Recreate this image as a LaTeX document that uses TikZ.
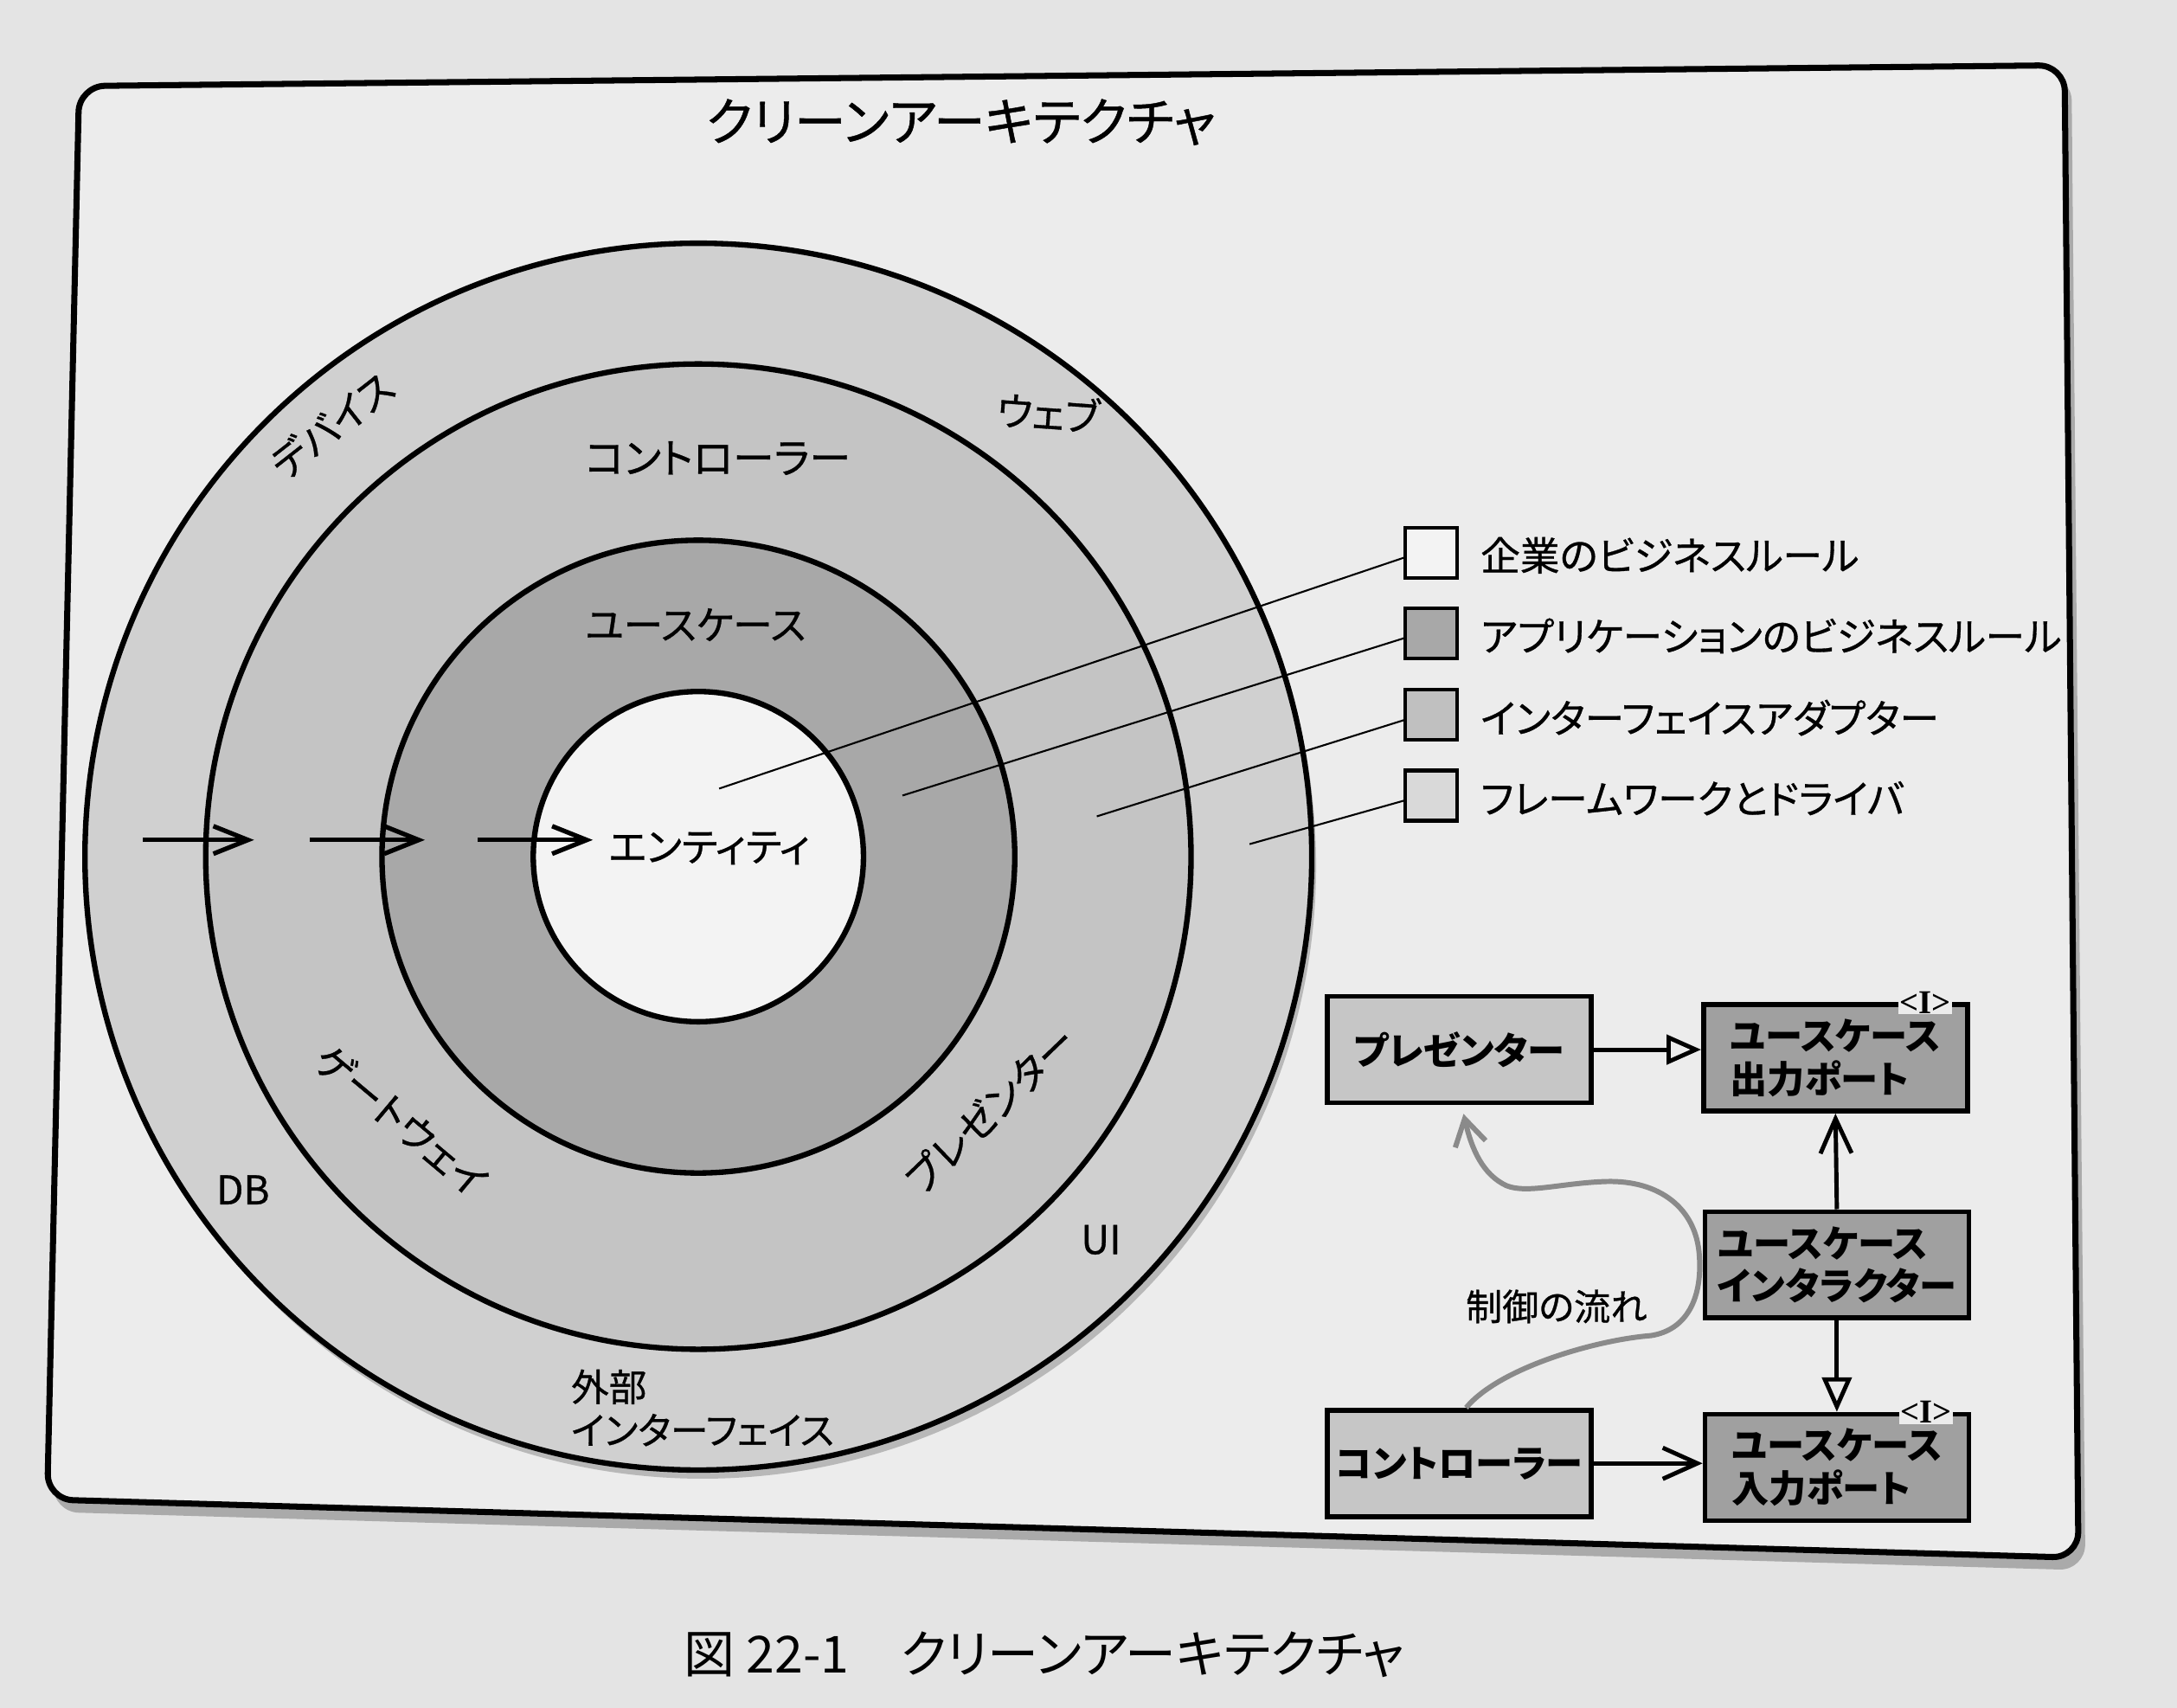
\documentclass[tikz,border=0pt]{standalone}
\usepackage{fontspec}
\setmainfont[RawFeature=+palt]{Noto Sans CJK JP}
\newfontfamily\medfont[RawFeature=+palt, FakeBold=0.7]{Noto Sans CJK JP}
\newfontfamily\markfont{Liberation Serif}
\usepackage{tikz}
\usetikzlibrary{arrows.meta}

\definecolor{paper}{HTML}{E4E4E4}
\definecolor{framefill}{HTML}{ECECEC}
\definecolor{ringFW}{HTML}{D0D0D0}
\definecolor{ringIA}{HTML}{C4C4C4}
\definecolor{ringUC}{HTML}{A8A8A8}
\definecolor{ringEN}{HTML}{F3F3F3}
\definecolor{boxlight}{HTML}{C6C6C6}
\definecolor{boxdark}{HTML}{A0A0A0}
\definecolor{flowgray}{HTML}{8A8A8A}
\newcommand\fsz[1]{\fontsize{#1}{1.15\dimexpr#1\relax}\selectfont}

\begin{document}
\begin{tikzpicture}[x=0.016046cm, y=-0.016046cm,
	ring/.style={line width=1.8pt, draw=black},
	lbl/.style={font=\medfont\fsz{13pt}, inner sep=0pt},
	legbox/.style={draw=black, line width=1.2pt, minimum width=.6cm, minimum height=.58cm, inner sep=0pt},
	legtxt/.style={font=\medfont\fsz{13pt}, anchor=west, inner sep=0pt},
	leader/.style={-, line width=.6pt, black},
	inarrow/.style={-{Straight Barb[length=4mm,width=3.2mm]}, line width=1.5pt},
	unit/.style={draw=black, line width=1.6pt, minimum width=3.05cm, minimum height=1.23cm, font=\bfseries\fsz{12.3pt}, align=left, inner sep=2pt},
	uses/.style={-{Straight Barb[length=4mm,width=3.6mm]}, line width=1.4pt},
	impl/.style={-{Triangle[length=4mm,width=3.4mm,fill=framefill]}, line width=1.4pt},
	imark/.style={font=\markfont\bfseries\fsz{11pt}, fill=framefill, inner sep=.4pt},
	flow/.style={-{Straight Barb[length=3mm,width=3.6mm]}, line width=1.7pt, draw=flowgray}
	]
			\useasboundingbox (0,0) rectangle (1568,1230);
			\fill[paper] (0,0) rectangle (1568,1230);
			
			% frame
			\fill[black, opacity=.25, rounded corners=.3cm] (61,69) -- (1492,54) -- (1502,1131) -- (38,1089) -- cycle;
			\draw[line width=2pt, fill=framefill, rounded corners=.3cm] (57,62) -- (1487,47) -- (1497,1122) -- (34,1080) -- cycle;
			\node[font=\medfont\fsz{17pt}] (title) at (692,88) {クリーンアーキテクチャ};
			
			% rings
			\coordinate (ctr) at (503,617);
			\fill[black, opacity=.22] ([xshift=.05cm,yshift=-.1cm]ctr) circle (7.092cm);
			\filldraw[ring, fill=ringFW] (ctr) circle (7.092cm);
			\filldraw[ring, fill=ringIA] (ctr) circle (5.696cm);
			\filldraw[ring, fill=ringUC] (ctr) circle (3.658cm);
			\filldraw[ring, fill=ringEN] (ctr) circle (1.909cm);
			
			\node[lbl, rotate=38] (devLbl) at (239,306) {デバイス};
			\node[lbl, rotate=-4] (webLbl) at (755,297) {ウェブ};
			\node[lbl, font=\medfont\fsz{13.6pt}] (ctlLbl) at (517,330) {コントローラー};
			\node[lbl] (ucLbl) at (501,450) {ユースケース};
			\node[lbl, anchor=west] (entLbl) at (438,611) {エンティティ};
			\node[lbl, rotate=-40] (gwLbl) at (289,807) {ゲートウェイ};
			\node[lbl, rotate=44] (prLbl) at (713,799) {プレゼンター};
			\node[lbl] (dbLbl) at (175,857) {DB};
			\node[lbl] (uiLbl) at (793,893) {UI};
			\node[lbl, font=\medfont\fsz{12.4pt}, anchor=west, align=left] (extLbl) at (411,1014) {外部\\インターフェイス};
			
			\foreach \xa/\xb [count=\i] in {103/183, 223/306, 344/427}{
				\coordinate (arS\i) at (\xa,605);
				\coordinate (arE\i) at (\xb,605);
				\path [inarrow] (arS\i) edge (arE\i);
			}
			
			% legend
			\node[legbox, fill=ringEN] (lgEnt) at (1031,398) {};
			\node[legbox, fill=ringUC] (lgApp) at (1031,456) {};
			\node[legbox, fill=ringIA!85!ringUC] (lgIf) at (1031,515) {};
			\node[legbox, fill=ringFW!80!white] (lgFw) at (1031,573) {};
			\node[legtxt] (txEnt) at (1066,400) {企業のビジネスルール};
			\node[legtxt] (txApp) at (1066,458) {アプリケーションのビジネスルール};
			\node[legtxt] (txIf) at (1066,517) {インターフェイスアダプター};
			\node[legtxt] (txFw) at (1066,575) {フレームワークとドライバ};
			
			\coordinate (ptEnt) at (518,568);
			\coordinate (ptApp) at (650,573);
			\coordinate (ptIf) at (790,588);
			\coordinate (ptFw) at (900,608);
			\path [leader] ([yshift=-.06cm]lgEnt.west) edge (ptEnt);
			\path [leader] ([yshift=-.06cm]lgApp.west) edge (ptApp);
			\path [leader] ([yshift=-.06cm]lgIf.west) edge (ptIf);
			\path [leader] ([yshift=-.06cm]lgFw.west) edge (ptFw);
			
			% flow of control
			\node[unit, fill=boxlight] (pres) at (1051,756) {プレゼンター};
			\node[unit, fill=boxdark] (ucOut) at (1322,762) {ユースケース\\出力ポート};
			\node[unit, fill=boxdark] (ucInt) at (1323,911) {ユースケース\\インタラクター};
			\node[unit, fill=boxlight] (ctrl) at (1051,1054) {コントローラー};
			\node[unit, fill=boxdark] (ucIn) at (1323,1057) {ユースケース\\入力ポート};
			\node[imark] (mkOut) at ([xshift=-.52cm]ucOut.north east) {<I>};
			\node[imark] (mkIn) at ([xshift=-.52cm]ucIn.north east) {<I>};
			
			\path [impl] (pres.east) edge (pres.east -| ucOut.west);
			\path [uses] (ucInt.north) edge (ucOut.south);
			\path [impl] (ucInt.south) edge (ucIn.north);
			\path [uses] (ctrl.east) edge (ctrl.east -| ucIn.west);
			
			\coordinate (fl1) at (1189,962);
			\coordinate (fl2) at (1224,905);
			\coordinate (fl3) at (1157,851);
			\coordinate (fl4) at (1085,854);
			\draw[flow] ([xshift=.08cm]ctrl.north) .. controls (1080,985) and (1150,965) .. (fl1)
				.. controls (1215,958) and (1226,935) .. (fl2)
				.. controls (1222,870) and (1195,850) .. (fl3)
				.. controls (1125,852) and (1100,860) .. (fl4)
				.. controls (1068,846) and (1060,828) .. ([xshift=.05cm,yshift=-.1cm]pres.south);
			\node[font=\medfont\fsz{12pt}] (flowLbl) at (1121,941) {制御の流れ};
			
			\node[font=\fsz{16.8pt}] (caption) at (752,1192) {図 22-1\quad クリーンアーキテクチャ};
			\end{tikzpicture}
\end{document}
